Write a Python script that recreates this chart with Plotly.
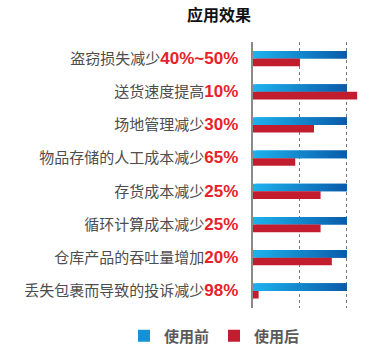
import plotly.graph_objects as go

categories = ["盗窃损失减少", "送货速度提高", "场地管理减少", "物品存储的人工成本减少",
              "存货成本减少", "循环计算成本减少", "仓库产品的吞吐量增加", "丢失包裹而导致的投诉减少"]
pct_labels = ["40%~50%", "10%", "30%", "65%", "25%", "25%", "20%", "98%"]
before = [100, 100, 100, 100, 100, 100, 100, 100]
after = [50, 111, 65, 45, 72, 72, 84, 6]
series_names = ["使用前", "使用后"]

CJK = "Noto Sans CJK SC"
LAT = "Liberation Sans"

ticktext = [
    f"<span style='color:#4d4d4d'>{c}</span>"
    f"<span style='font-family:{LAT};color:#e8212b;font-size:17px;font-weight:bold'>{p}</span>"
    for c, p in zip(categories, pct_labels)
]

idx = list(range(len(categories)))
W = 0.23

def lerp(c1, c2, t):
    return "#%02x%02x%02x" % tuple(int(round(a + (b - a) * t)) for a, b in zip(c1, c2))

c_left = (0x1d, 0xb1, 0xec)
c_right = (0x0a, 0x5c, 0xab)

fig = go.Figure()
N = 30
for k in range(N):
    t = k / (N - 1)
    seg = [v / N * (2 if k < N - 1 else 1) for v in before]
    fig.add_trace(go.Bar(
        y=idx, x=seg, base=[v * k / N for v in before],
        orientation="h", width=W, offset=-W,
        marker=dict(color=lerp(c_left, c_right, t), line=dict(width=0)),
        showlegend=False, hoverinfo="skip",
    ))

# legend entries
fig.add_trace(go.Bar(y=[None], x=[None], orientation="h", name=series_names[0],
                     marker=dict(color="#1591d6", line=dict(width=0)), showlegend=True,
                     legend="legend"))
fig.add_trace(go.Bar(
    y=idx, x=after, orientation="h", width=W, offset=0,
    marker=dict(color="#c21d2e", line=dict(width=0)), name=series_names[1], showlegend=True,
    legend="legend2",
))

legend_font = dict(family=CJK, size=15, color="#5a5a5a", weight="bold")
fig.update_layout(
    width=373, height=356,
    margin=dict(l=253, r=13, t=42, b=46),
    barmode="overlay",
    plot_bgcolor="white", paper_bgcolor="white",
    title=dict(text="<b>应用效果</b>", font=dict(family=CJK, size=16, color="#111"),
               x=219 / 373, xanchor="center", xref="container",
               y=1 - 15 / 356, yanchor="middle", yref="container"),
    legend=dict(orientation="h", x=124 / 373, xanchor="left", xref="container",
                y=1 - 336 / 356, yanchor="middle", yref="container", font=legend_font),
    legend2=dict(orientation="h", x=214 / 373, xanchor="left", xref="container",
                 y=1 - 336 / 356, yanchor="middle", yref="container", font=legend_font),
    showlegend=True,
)
fig.update_xaxes(range=[0, 114], tickvals=[50, 100], showticklabels=False,
                 showgrid=True, gridcolor="#777", griddash="3px,3px", gridwidth=1,
                 zeroline=False, showline=False, fixedrange=True)
fig.update_yaxes(tickvals=idx, ticktext=ticktext, autorange=False, range=[7.5, -0.5],
                 tickfont=dict(family=CJK, size=15, color="#4d4d4d"),
                 showline=True, linecolor="#8a8a8a", linewidth=1.5, showgrid=False,
                 zeroline=False, ticks="", ticklabelstandoff=10, fixedrange=True)

fig.write_html("out.html", config={"displayModeBar": False},
               post_script="document.body.style.margin='0';document.body.style.padding='0';")
